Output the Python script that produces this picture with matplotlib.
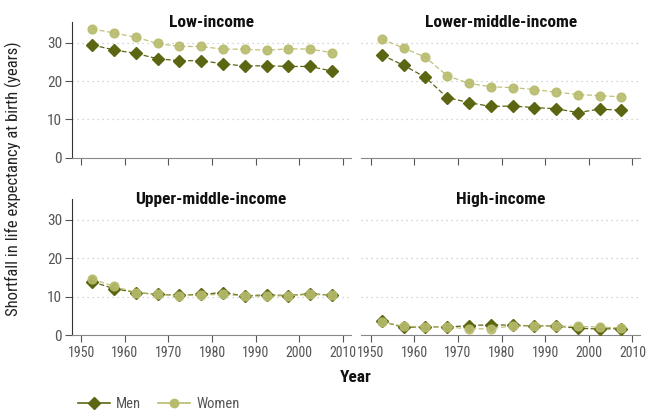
import matplotlib
matplotlib.use("Agg")
import matplotlib.pyplot as plt
from matplotlib import font_manager
from matplotlib.lines import Line2D

# pick a narrow font if there is one
names = set(f.name for f in font_manager.fontManager.ttflist)
font = "DejaVu Sans"
for f in ["Liberation Sans Narrow", "DejaVu Sans Condensed", "Roboto Condensed", "Open Sans"]:
    if f in names:
        font = f
        break
plt.rcParams["font.family"] = [font, "DejaVu Sans"]

years = [1952.5, 1957.5, 1962.5, 1967.5, 1972.5, 1977.5, 1982.5, 1987.5, 1992.5, 1997.5, 2002.5, 2007.5]

titles = ["Low-income", "Lower-middle-income", "Upper-middle-income", "High-income"]

men = [
    [29.4, 28.1, 27.2, 25.8, 25.3, 25.3, 24.5, 23.9, 24.0, 23.8, 23.8, 22.6],
    [26.8, 24.1, 21.0, 15.7, 14.4, 13.4, 13.5, 13.1, 12.8, 11.8, 12.7, 12.4],
    [13.9, 12.1, 11.1, 10.6, 10.4, 10.6, 11.1, 10.2, 10.5, 10.3, 10.8, 10.4],
    [3.6, 2.0, 2.2, 2.1, 2.5, 2.7, 2.6, 2.4, 2.4, 1.8, 1.6, 1.7],
]
women = [
    [33.6, 32.5, 31.4, 29.8, 29.0, 29.0, 28.3, 28.3, 28.0, 28.4, 28.3, 27.4],
    [30.9, 28.6, 26.2, 21.4, 19.4, 18.5, 18.3, 17.8, 17.1, 16.5, 16.2, 15.9],
    [14.6, 12.7, 11.1, 10.6, 10.3, 10.5, 10.6, 10.2, 10.1, 10.3, 10.6, 10.4],
    [3.5, 2.3, 2.2, 2.2, 1.6, 1.7, 2.4, 2.4, 2.3, 2.3, 2.1, 1.9],
]

men_color = "#5c6612"
women_color = "#b7bb6c"

fig = plt.figure(figsize=(6.58, 4.20), dpi=100)

lefts = [0.109, 0.549]
bottoms = [0.624, 0.202]
w, h = 0.424, 0.323

for i in range(4):
    r, c = divmod(i, 2)
    ax = fig.add_axes([lefts[c], bottoms[r], w, h])
    ax.plot(years, men[i], color=men_color, linestyle=(0, (4, 2)), linewidth=0.9,
            marker="D", markersize=6.3, zorder=3)
    ax.plot(years, women[i], color=women_color, linestyle=(0, (4, 2)), linewidth=0.9,
            marker="o", markersize=6.3, alpha=0.9, zorder=4)
    ax.set_xlim(1947.8, 2011.8)
    ax.set_ylim(0, 35.3)
    ax.set_xticks(range(1950, 2011, 10))
    ax.set_yticks([0, 10, 20, 30])
    for yv in [10, 20, 30]:
        ax.axhline(yv, color="#c8c8c8", linestyle=(0, (1, 3)), linewidth=0.9, zorder=1)
    for s in ["top", "right"]:
        ax.spines[s].set_visible(False)
    ax.spines["bottom"].set_color("#888888")
    ax.spines["left"].set_color("#333333")
    ax.tick_params(axis="x", direction="out", length=5, color="#555555",
                   labelsize=10, labelcolor="#555555", pad=3)
    ax.tick_params(axis="y", direction="out", length=5, color="#555555",
                   labelsize=11, labelcolor="#555555", pad=2)
    if r == 0:
        ax.tick_params(axis="x", labelbottom=False)
    if c == 1:
        ax.spines["left"].set_visible(False)
        ax.tick_params(axis="y", left=False, labelleft=False)
    ax.text(0.5, 1.0, titles[i], transform=ax.transAxes, ha="center", va="center",
            fontsize=12.5, fontweight="bold", color="#111111")

fig.text(0.02, 0.575, "Shortfall in life expectancy at birth (years)", rotation=90,
         ha="center", va="center", fontsize=12, color="#222222")
fig.text(0.54, 0.10, "Year", ha="center", va="center", fontsize=12.5,
         fontweight="bold", color="#111111")

handles = [
    Line2D([], [], color=men_color, marker="D", markersize=6, linewidth=1.2),
    Line2D([], [], color=women_color, marker="o", markersize=6, linewidth=1.2),
]
fig.legend(handles, ["Men", "Women"], loc="center left", bbox_to_anchor=(0.098, 0.038),
           ncol=2, frameon=False, fontsize=10.5, labelcolor="#555555",
           handlelength=2.2, columnspacing=1.2, handletextpad=0.4)

fig.savefig("out.png", dpi=100)
